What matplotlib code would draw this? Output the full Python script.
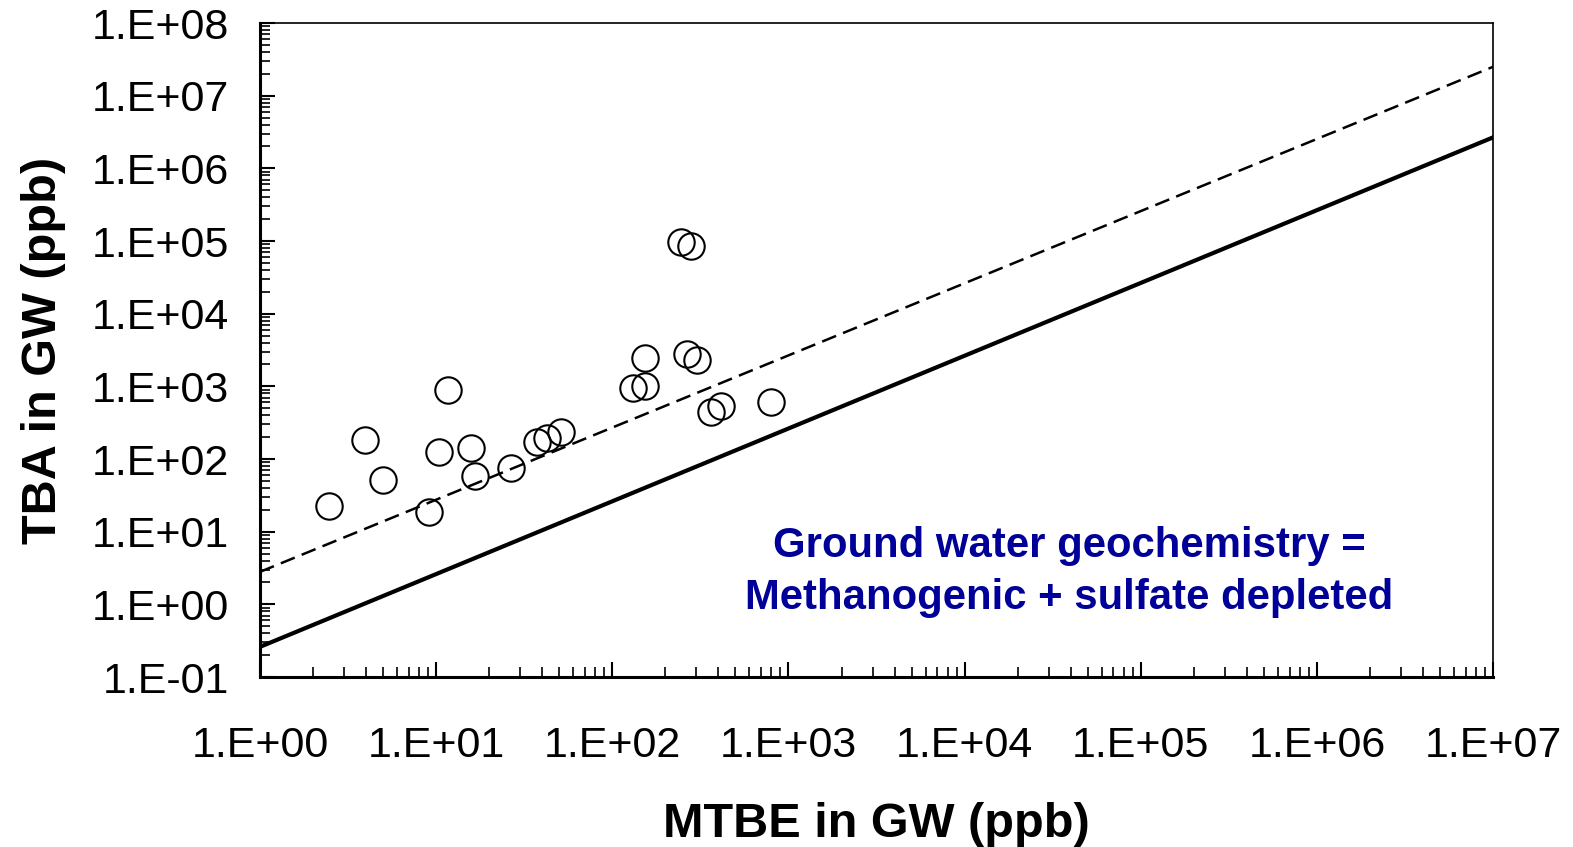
import matplotlib.pyplot as plt
import numpy as np
from matplotlib.ticker import FixedLocator, FuncFormatter, NullFormatter

plt.rcParams['font.family'] = ['Liberation Sans', 'DejaVu Sans']

# MTBE vs TBA observations (ppb)
mtbe = [2.47, 3.96, 5.01, 11.6, 10.4, 9.15, 15.8, 16.7, 26.5, 37.5, 42.8, 51.4,
        131, 154, 153, 264, 301, 245, 281, 362, 413, 793]
tba = [22.8, 183, 51.4, 891, 125, 18.7, 142, 58.4, 75.2, 171, 193, 235,
       949, 1012, 2455, 2786, 2306, 96900, 85300, 444, 537, 609]

# reference lines
line_x = [1.0, 1.0e7]
solid_y = [0.26, 2.67e6]
dashed_y = [2.8, 2.5e7]

x_decades = np.arange(0, 8)
y_decades = np.arange(-1, 9)

fig = plt.figure(figsize=(15.73, 8.47), dpi=100)
ax = fig.add_axes([0.1653, 0.2007, 0.7839, 0.7721])

ax.plot(line_x, solid_y, color='black', lw=3)
ax.plot(line_x, dashed_y, color='black', lw=1.8, dashes=(6, 3))
ax.plot(mtbe, tba, 'o', ms=19, mfc='none', mec='black', mew=1.5, clip_on=False)

ax.set_xscale('log')
ax.set_yscale('log')
ax.set_xlim(1, 1e7)
ax.set_ylim(0.1, 1e8)

fmt = FuncFormatter(lambda v, p: f"1.E{int(round(np.log10(v))):+03d}")
for axis, dec in ((ax.xaxis, x_decades), (ax.yaxis, y_decades)):
    major = 10.0 ** dec
    minor = [m * 10.0 ** d for d in dec[:-1] for m in range(2, 10)]
    axis.set_major_locator(FixedLocator(major))
    axis.set_minor_locator(FixedLocator(minor))
    axis.set_major_formatter(fmt)
    axis.set_minor_formatter(NullFormatter())

ax.tick_params(which='major', direction='in', length=11, width=1.5, labelsize=31)
ax.tick_params(which='minor', direction='in', length=7, width=1.2)
ax.tick_params(axis='x', which='major', pad=35)
ax.tick_params(axis='y', which='major', pad=22)

for s in ['left', 'bottom']:
    ax.spines[s].set_linewidth(2.2)
for s in ['top', 'right']:
    ax.spines[s].set_linewidth(1.2)

ax.set_xlabel("MTBE in GW (ppb)", fontsize=35, fontweight='bold', labelpad=26)
ax.set_ylabel("TBA in GW (ppb)", fontsize=35, fontweight='bold', labelpad=19)

ax.text(0.656, 0.161, "Ground water geochemistry =\nMethanogenic + sulfate depleted",
        transform=ax.transAxes, ha='center', va='center', fontsize=30.2,
        fontweight='bold', color='#000099', linespacing=1.4)

fig.savefig("out.png", dpi=100)
